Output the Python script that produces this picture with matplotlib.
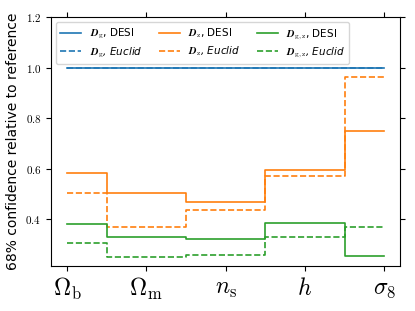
import numpy as np
import matplotlib
matplotlib.use("Agg")
import matplotlib.pyplot as plt

plt.rcParams['mathtext.fontset'] = 'cm'

params = [r'$\Omega_{\rm b}$', r'$\Omega_{\rm m}$', r'$n_{\rm s}$', r'$h$', r'$\sigma_8$']
g_desi = [1.0, 1.0, 1.0, 1.0, 1.0]
g_euclid = [1.0, 1.0, 1.0, 1.0, 1.0]
z_desi = [0.584, 0.503, 0.469, 0.595, 0.751]
z_euclid = [0.505, 0.371, 0.437, 0.571, 0.964]
gz_desi = [0.381, 0.331, 0.321, 0.387, 0.256]
gz_euclid = [0.308, 0.252, 0.258, 0.331, 0.371]

x = np.arange(len(params))

fig = plt.figure(figsize=(4.15, 3.11), dpi=100)
ax = fig.add_axes([0.123, 0.145, 0.841, 0.80])

ax.step(x, g_desi, where='mid', c='C0', lw=1.2, label=r'$\boldsymbol{D}_{\rm g}$, DESI')
ax.step(x, g_euclid, where='mid', c='C0', lw=1.2, ls='--', label=r'$\boldsymbol{D}_{\rm g}$, Euclid')
ax.step(x, z_desi, where='mid', c='C1', lw=1.2, label=r'$\boldsymbol{D}_{\rm z}$, DESI')
ax.step(x, z_euclid, where='mid', c='C1', lw=1.2, ls='--', label=r'$\boldsymbol{D}_{\rm z}$, Euclid')
ax.step(x, gz_desi, where='mid', c='C2', lw=1.2, label=r'$\boldsymbol{D}_{\rm g,z}$, DESI')
ax.step(x, gz_euclid, where='mid', c='C2', lw=1.2, ls='--', label=r'$\boldsymbol{D}_{\rm g,z}$, Euclid')

ax.set_xlim(-0.2, 4.2)
ax.set_ylim(0.216, 1.2)
ax.set_xticks(x)
ax.set_xticklabels(params, fontsize=17)
yt = [0.4, 0.6, 0.8, 1.0, 1.2]
ax.set_yticks(yt)
ax.set_yticklabels(['$%.1f$' % v for v in yt], fontsize=8)
ax.tick_params(top=True, right=True, direction='out')
ax.set_ylabel('68% confidence relative to reference', fontsize=10)

leg = ax.legend(ncol=3, loc='upper left', fontsize=7.5, labelspacing=0.4,
                columnspacing=1.6)
for t in leg.get_texts():
    if 'Euclid' in t.get_text():
        t.set_fontstyle('italic')

fig.savefig('out.png', dpi=100)
